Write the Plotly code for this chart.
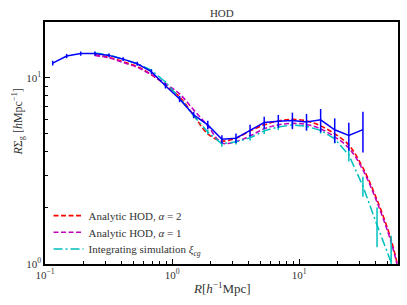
import plotly.graph_objects as go

# Radial bins (h^-1 Mpc)
R_sim = [0.115, 0.148, 0.191, 0.247, 0.319, 0.412, 0.532, 0.687, 0.887, 1.146,
         1.479, 1.910, 2.466, 3.184, 4.111, 5.309, 6.855, 8.851, 11.43, 14.76,
         19.05, 24.60, 31.77]
# Simulation measurement (blue)
sim_val = [12.0, 13.1, 13.5, 13.5, 13.2, 12.6, 11.9, 10.8, 9.06, 7.7,
           6.32, 5.59, 4.68, 4.74, 5.22, 5.75, 5.85, 5.9, 5.8, 5.95,
           5.26, 4.9, 5.27]
sim_err = [0.35, 0.35, 0.35, 0.35, 0.3, 0.3, 0.3, 0.3, 0.3, 0.3,
           0.25, 0.3, 0.24, 0.28, 0.38, 0.43, 0.47, 0.6, 0.6, 0.85,
           0.8, 0.84, 1.3]

# Model / integrated curves
R_mod = [0.247, 0.319, 0.412, 0.532, 0.687, 0.887, 1.146, 1.479, 1.910, 2.466,
         3.184, 4.111, 5.309, 6.855, 8.851, 11.43, 14.76, 19.05, 24.60, 31.77,
         41.02, 52.97, 60.0]
hod_a2 = [13.3, 12.9, 12.2, 11.5, 10.4, 9.17, 7.9, 6.3, 5.0, 4.58,
          4.74, 5.19, 5.59, 5.87, 5.98, 5.87, 5.52, 5.0, 4.36, 3.28,
          2.21, 1.35, 0.96]
hod_a1 = [13.2, 12.8, 12.1, 11.4, 10.4, 9.3, 8.2, 6.73, 5.52, 4.47,
          4.55, 4.88, 5.32, 5.59, 5.69, 5.62, 5.32, 4.82, 4.2, 3.2,
          2.15, 1.31, 0.95]

R_int = [0.247, 0.319, 0.412, 0.532, 0.687, 0.887, 1.146, 1.479, 1.910, 2.466,
         3.184, 4.111, 5.309, 6.855, 8.851, 11.43, 14.76, 19.05, 24.60, 31.77,
         41.02, 52.97]
int_val = [13.6, 13.3, 12.6, 11.9, 11.0, 9.5, 7.8, 6.25, 5.12, 4.42,
           4.53, 4.76, 5.19, 5.45, 5.59, 5.49, 5.22, 4.70, 3.85, 2.62,
           1.62, 1.02]
int_err = [0.15, 0.15, 0.15, 0.15, 0.15, 0.15, 0.15, 0.15, 0.15, 0.15,
           0.15, 0.15, 0.2, 0.2, 0.2, 0.2, 0.2, 0.25, 0.3, 0.32,
           0.39, 0.4]

FONT = "Liberation Serif"
TXT = "#333"

fig = go.Figure()
fig.add_trace(go.Scatter(
    x=R_mod, y=hod_a2, mode="lines", name="Analytic HOD, <i>α</i> = 2", legend="legend",
    line=dict(color="#ff0000", width=1.6, dash="5px,2.5px", shape="spline")))
fig.add_trace(go.Scatter(
    x=R_mod, y=hod_a1, mode="lines", name="Analytic HOD, <i>α</i> = 1", legend="legend2",
    line=dict(color="#bf00bf", width=1.6, dash="5px,2.5px", shape="spline")))
fig.add_trace(go.Scatter(
    x=R_int, y=int_val, mode="lines", legend="legend3",
    name="Integrating simulation <i>ξ</i><sub><i>cg</i></sub>",
    line=dict(color="#00bfbf", width=1.5, dash="9px,3px,2px,3px"),
    error_y=dict(type="data", array=int_err, color="#00bfbf", thickness=1.5, width=0)))
fig.add_trace(go.Scatter(
    x=R_sim, y=sim_val, mode="lines", showlegend=False,
    line=dict(color="#0000ff", width=1.5),
    error_y=dict(type="data", array=sim_err, color="#0000ff", thickness=1.5, width=0)))

axis_common = dict(
    showline=True, mirror=True, linecolor="black", linewidth=1.6,
    showgrid=False, zeroline=False, ticks="inside", ticklen=5, tickcolor="black",
    tickfont=dict(family=FONT, size=11, color=TXT), automargin=False,
)
fig.update_xaxes(type="log", range=[-1, 1.778],
                 tickvals=[0.1, 1, 10],
                 ticktext=["10<sup>−1</sup>", "10<sup>0</sup>", "10<sup>1</sup>"],
                 minor=dict(ticks="inside", ticklen=3, tickcolor="black", dtick="D1", showgrid=False),
                 **axis_common)
fig.update_yaxes(type="log", range=[0, 1.30],
                 tickvals=[1, 10],
                 ticktext=["10<sup>0</sup>", "10<sup>1</sup>"],
                 minor=dict(ticks="inside", ticklen=3, tickcolor="black", dtick="D1", showgrid=False),
                 **axis_common)

fig.add_annotation(text="<i>R</i>[<i>h</i><sup>−1</sup>Mpc]", xref="paper", yref="paper",
                   x=0.5, y=-0.10, yanchor="middle", showarrow=False,
                   font=dict(family=FONT, size=13, color=TXT))
fig.add_annotation(text="<i>R</i>Σ<sub>g</sub> [<i>h</i>Mpc<sup>−1</sup>]", xref="paper", yref="paper",
                   x=-0.076, y=0.585, xanchor="center", yanchor="middle", textangle=-90,
                   showarrow=False, font=dict(family=FONT, size=12, color=TXT))

leg_common = dict(x=0.01, xanchor="left", yanchor="middle",
                  bgcolor="rgba(0,0,0,0)", borderwidth=0,
                  font=dict(family=FONT, size=11, color=TXT), itemwidth=30)

fig.update_layout(
    width=407, height=305,
    margin=dict(l=45, r=9, t=22, b=41, autoexpand=False),
    paper_bgcolor="white", plot_bgcolor="white",
    title=dict(text="HOD", x=0.545, xanchor="center", y=0.957, yanchor="middle",
               font=dict(family=FONT, size=11, color=TXT)),
    legend=dict(y=0.20, **leg_common),
    legend2=dict(y=0.131, **leg_common),
    legend3=dict(y=0.062, **leg_common),
    showlegend=True,
)

fig.write_html("out.html", config={"displayModeBar": False},
               post_script="document.body.style.margin='0';document.body.style.overflow='hidden';")
